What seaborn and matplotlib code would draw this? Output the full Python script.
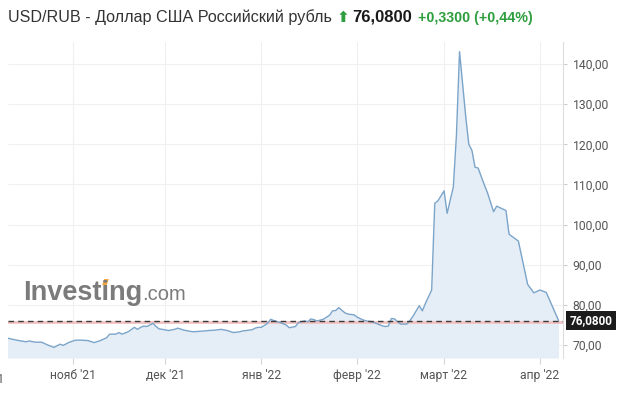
import matplotlib
matplotlib.use("Agg")
import matplotlib.pyplot as plt
import matplotlib.transforms as mtransforms
import matplotlib.patches as mpatches
import numpy as np
import pandas as pd
import seaborn as sns

# ---------------- data ----------------
dates = [
    "2021-10-11", "2021-10-14", "2021-10-17", "2021-10-18", "2021-10-20", "2021-10-22",
    "2021-10-24", "2021-10-26", "2021-10-28", "2021-10-29", "2021-10-31",
    "2021-11-02", "2021-11-04", "2021-11-06", "2021-11-08", "2021-11-10", "2021-11-12",
    "2021-11-13", "2021-11-15", "2021-11-16", "2021-11-17", "2021-11-19", "2021-11-21",
    "2021-11-22", "2021-11-23", "2021-11-24", "2021-11-25", "2021-11-27", "2021-11-28",
    "2021-11-29", "2021-11-30",
    "2021-12-02", "2021-12-04", "2021-12-05", "2021-12-07", "2021-12-09", "2021-12-10",
    "2021-12-12", "2021-12-15", "2021-12-17", "2021-12-19", "2021-12-21", "2021-12-23",
    "2021-12-25", "2021-12-26", "2021-12-29", "2021-12-30", "2021-12-31",
    "2022-01-01", "2022-01-03", "2022-01-04", "2022-01-05", "2022-01-07", "2022-01-09",
    "2022-01-10", "2022-01-12", "2022-01-13", "2022-01-15", "2022-01-16", "2022-01-17",
    "2022-01-18", "2022-01-19", "2022-01-21", "2022-01-23", "2022-01-24", "2022-01-25",
    "2022-01-26", "2022-01-28", "2022-01-29", "2022-01-31",
    "2022-02-01", "2022-02-03", "2022-02-04", "2022-02-06", "2022-02-07", "2022-02-09",
    "2022-02-10", "2022-02-11", "2022-02-12", "2022-02-13", "2022-02-14", "2022-02-15",
    "2022-02-17", "2022-02-18", "2022-02-19", "2022-02-21", "2022-02-22", "2022-02-23",
    "2022-02-25", "2022-02-26", "2022-02-27",
    "2022-03-01", "2022-03-02", "2022-03-04", "2022-03-05", "2022-03-06", "2022-03-08",
    "2022-03-09", "2022-03-10", "2022-03-11", "2022-03-12", "2022-03-14", "2022-03-15",
    "2022-03-17", "2022-03-18", "2022-03-21", "2022-03-22", "2022-03-25", "2022-03-28",
    "2022-03-30",
    "2022-04-01", "2022-04-03", "2022-04-07",
]
values = [
    71.7, 71.2, 70.8, 71.0, 70.7, 70.7,
    70.0, 69.4, 70.2, 69.9, 70.7,
    71.2, 71.2, 71.1, 70.6, 71.1, 71.8,
    72.7, 72.7, 73.1, 72.7, 73.3, 74.4,
    73.9, 74.4, 74.7, 74.6, 75.4, 74.6,
    74.0, 73.9,
    73.6, 73.9, 74.2, 73.7, 73.4, 73.3,
    73.4, 73.6, 73.7, 73.9, 73.6, 73.1,
    73.3, 73.5, 73.8, 74.2, 74.4,
    74.4, 75.4, 76.4, 76.1, 75.6, 75.0,
    74.3, 74.6, 75.6, 76.0, 75.8, 76.5,
    76.3, 76.0, 76.4, 77.4, 78.5, 78.6,
    79.3, 78.0, 77.7, 77.5,
    76.9, 76.2, 76.0, 75.7, 75.4, 74.8,
    74.6, 74.7, 76.6, 76.5, 75.8, 75.2,
    75.2, 76.1, 77.2, 79.8, 78.5, 80.4,
    83.7, 105.3, 105.9,
    108.4, 102.8, 109.4, 122.3, 143.1, 126.9,
    120.0, 118.5, 114.3, 114.1, 109.9, 108.0,
    103.2, 104.6, 103.5, 97.6, 95.9, 85.1,
    83.0,
    83.7, 83.1, 76.08,
]
last_price = 76.08
prev_close = 75.75
y_ticks = [70, 80, 90, 100, 110, 120, 130, 140]
month_ticks = ["2021-11-01", "2021-12-01", "2022-01-01", "2022-02-01", "2022-03-01", "2022-04-01"]
month_labels = ["нояб '21", "дек '21", "янв '22", "февр '22", "март '22", "апр '22"]
cut_label = "окт '21"
title_text = "USD/RUB - Доллар США Российский рубль"
price_text = "76,0800"
change_text = "+0,3300 (+0,44%)"

# ---------------- style ----------------
sns.set_theme(style="white")
plt.rcParams['font.family'] = ['Roboto', 'DejaVu Sans']

W, H = 624, 393
fig = plt.figure(figsize=(W / 100, H / 100), dpi=100)
fig.patch.set_facecolor("white")
ax = fig.add_axes([8 / W, 35 / H, 555 / W, 316 / H])

df = pd.DataFrame({"date": pd.to_datetime(dates), "value": values})
y_lo, y_hi = 66.76, 145.5

ax.fill_between(df["date"], df["value"], y_lo, color="#e5eef7", lw=0, zorder=1)
sns.lineplot(data=df, x="date", y="value", ax=ax, color="#7ba4c9", lw=1.0, zorder=3)

ax.axhline(prev_close, color="#f2c2c2", lw=2.0, zorder=2)
ax.axhline(last_price, color="#3a3a3a", lw=1.0, ls=(0, (4, 3)), zorder=4)

ax.set_ylim(y_lo, y_hi)
ax.set_xlim(pd.Timestamp("2021-10-11 04:00"), pd.Timestamp("2022-04-08 10:00"))

ax.yaxis.tick_right()
ax.set_yticks(y_ticks)
ax.set_yticklabels([f"{v:.2f}".replace(".", ",") for v in y_ticks])
ax.set_xticks(pd.to_datetime(month_ticks))
ax.set_xticklabels(month_labels)
ax.tick_params(axis="y", right=True, left=False, length=3, width=0.8, color="#cccccc",
               labelcolor="#555555", labelsize=8.7, pad=4)
ax.tick_params(axis="x", bottom=True, length=4, width=0.8, color="#d5d5d5",
               labelcolor="#555555", labelsize=8.7, pad=4)
ax.set_xlabel("")
ax.set_ylabel("")

ax.grid(True, color="#f0f0f0", lw=0.8)
ax.set_axisbelow(True)
for s in ["left", "top", "bottom"]:
    ax.spines[s].set_visible(False)
ax.spines["right"].set_color("#dddddd")
ax.spines["right"].set_linewidth(0.8)

# partially cut label at the left edge (as in the reference)
trans_x = mtransforms.blended_transform_factory(ax.transAxes, ax.transAxes)
ax.text(-0.0075, -0.048, cut_label, transform=trans_x, ha="right", va="top",
        color="#555555", fontsize=8.7, clip_on=False)

# price label box on the right
trans_b = mtransforms.blended_transform_factory(ax.transAxes, ax.transData)
ax.text(1.012, last_price, price_text, transform=trans_b, ha="left", va="center",
        color="white", fontweight="bold", fontsize=8.5, clip_on=False, zorder=6,
        bbox=dict(boxstyle="square,pad=0.28", fc="#1c1c1c", ec="none"))

# watermark
fig.canvas.draw()
r = fig.canvas.get_renderer()
wm_props = dict(fontsize=19.5, fontweight="bold", color="#7b7b7b",
                family="Liberation Sans", va="baseline", ha="left")
wm_base = 1 - 300 / H
wm = fig.text(23 / W, wm_base, "Investing", **wm_props)
bb = wm.get_window_extent(r)
fig.text(bb.x1 / W, wm_base, ".com", fontsize=14.5, color="#7b7b7b",
         family="Liberation Sans", va="baseline", ha="left")
# orange accent over the "i"
tmp = fig.text(23 / W, wm_base, "Invest", **wm_props)
bt = tmp.get_window_extent(r)
tmp.remove()
tmp = fig.text(23 / W, wm_base, "i", **wm_props)
bi = tmp.get_window_extent(r)
tmp.remove()
cx = bt.x1 + bi.width / 2
by = H - 300
poly = [(cx - 3.0, by + 15), (cx + 1.5, by + 15), (cx + 3.5, by + 21), (cx - 1.0, by + 21)]
fig.add_artist(mpatches.Polygon([(px / W, py / H) for px, py in poly], closed=True,
                                fc="#f4a53c", ec="none", transform=fig.transFigure))

# title line
base = 1 - 22 / H
t1 = fig.text(8 / W, base, title_text, fontsize=11.6, color="#333333",
              family="Liberation Sans", va="baseline", ha="left")
fig.canvas.draw()
bb = t1.get_window_extent(r)
t2 = fig.text((bb.x1 + 5) / W, base, "⬆", fontsize=11, color="#2e9e3e",
              family="DejaVu Sans", va="baseline", ha="left", fontweight="bold")
fig.canvas.draw()
bb = t2.get_window_extent(r)
t3 = fig.text((bb.x1 + 3) / W, base, price_text, fontsize=12, fontweight="bold",
              color="#1a1a1a", family="Liberation Sans", va="baseline", ha="left")
fig.canvas.draw()
bb = t3.get_window_extent(r)
fig.text((bb.x1 + 6) / W, base, change_text, fontsize=10.3, fontweight="bold",
         color="#2e9e3e", family="Liberation Sans", va="baseline", ha="left")

fig.savefig("out.png", dpi=100, facecolor="white")
